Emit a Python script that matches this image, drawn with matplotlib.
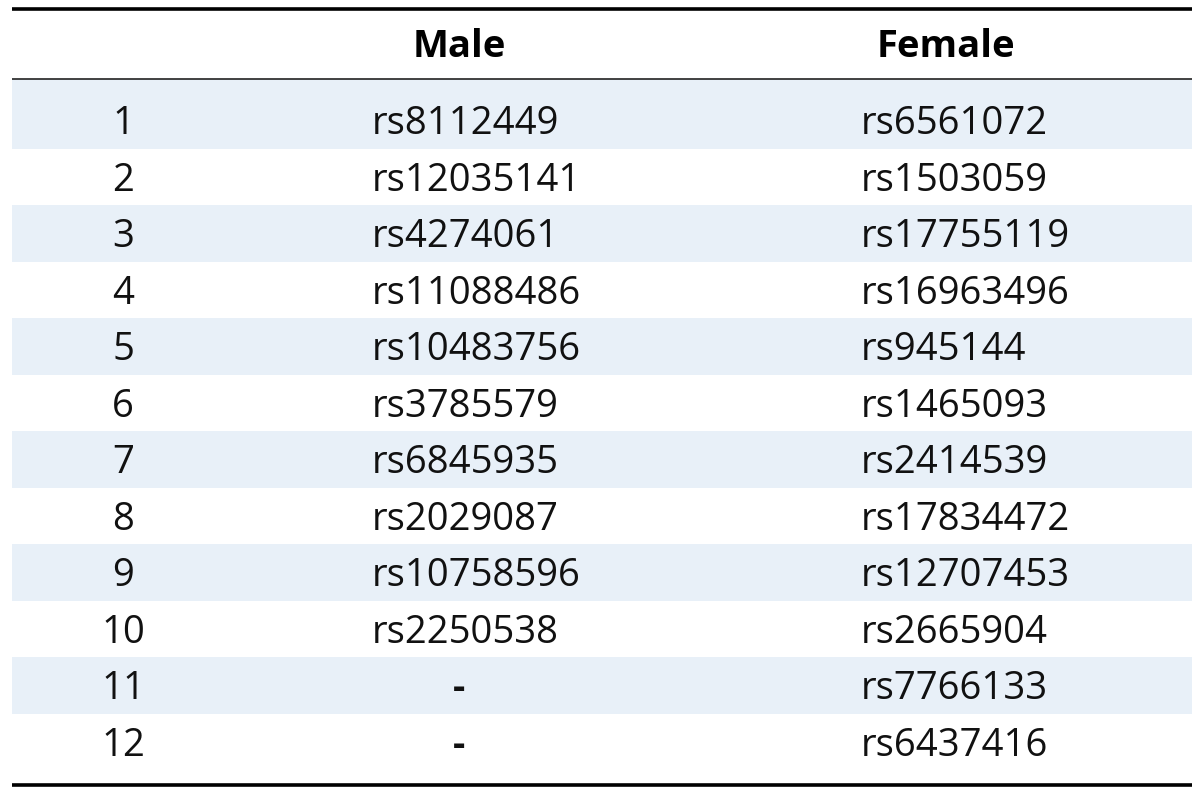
import matplotlib.pyplot as plt
from matplotlib.patches import Rectangle

# table content
ranks = [str(i) for i in range(1, 13)]
male = ['rs8112449', 'rs12035141', 'rs4274061', 'rs11088486', 'rs10483756',
        'rs3785579', 'rs6845935', 'rs2029087', 'rs10758596', 'rs2250538', '-', '-']
female = ['rs6561072', 'rs1503059', 'rs17755119', 'rs16963496', 'rs945144',
          'rs1465093', 'rs2414539', 'rs17834472', 'rs12707453', 'rs2665904',
          'rs7766133', 'rs6437416']
headers = ['', 'Male', 'Female']

plt.rcParams['font.family'] = ['Open Sans', 'DejaVu Sans']

W, H = 1200, 794
fig = plt.figure(figsize=(W / 100, H / 100), dpi=100)
ax = fig.add_axes([0, 0, 1, 1])
ax.set_xlim(0, W)
ax.set_ylim(H, 0)
ax.axis('off')

left, right = 12, 1192
row_h = 56.5
first_top = 92
header_line = 78.5
band_color = '#e8f0f8'
fs = 27.5

# striped rows (odd rows shaded; the first one reaches up to the header rule)
for i in range(len(ranks)):
    top = first_top + i * row_h
    if i % 2 == 0:
        y0 = header_line if i == 0 else top
        ax.add_patch(Rectangle((left, y0), right - left, top + row_h - y0,
                               facecolor=band_color, edgecolor='none', zorder=0))

# rules
ax.plot([left, right], [8.5, 8.5], color='black', lw=2.6, solid_capstyle='butt')
ax.plot([left, right], [header_line, header_line], color='#222222', lw=1.2, solid_capstyle='butt')
ax.plot([left, right], [784.5, 784.5], color='black', lw=2.6, solid_capstyle='butt')

# header
ax.text(459, 47, headers[1], ha='center', va='center', fontsize=fs, fontweight='bold')
ax.text(946, 47, headers[2], ha='center', va='center', fontsize=fs, fontweight='bold')

# body
for i in range(len(ranks)):
    yc = first_top + i * row_h + row_h / 2 + 4
    ax.text(123, yc, ranks[i], ha='center', va='center', fontsize=fs, color='#111111')
    if male[i] == '-':
        ax.text(459, yc, male[i], ha='center', va='center', fontsize=fs,
                fontweight='bold', color='#111111')
    else:
        ax.text(372, yc, male[i], ha='left', va='center', fontsize=fs, color='#111111')
    ax.text(861, yc, female[i], ha='left', va='center', fontsize=fs, color='#111111')

fig.savefig('out.png', dpi=100, facecolor='white')
